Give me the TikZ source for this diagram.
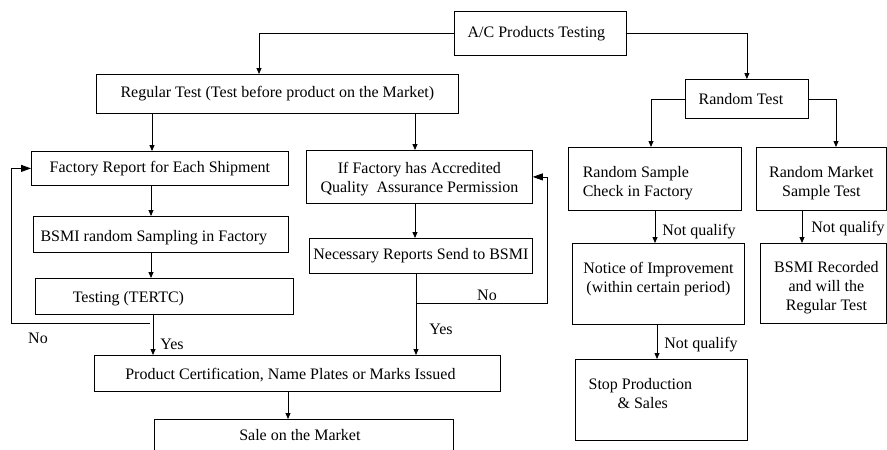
\documentclass[tikz,border=0pt]{standalone}
\usepackage{fontspec}
\setmainfont{Liberation Serif}
\usetikzlibrary{arrows.meta}
\newcommand\nudge[3]{\raisebox{#2}[\height][\depth]{\hspace*{#1}#3\hspace*{-#1}}}
\begin{document}
\begin{tikzpicture}[x=1pt,y=-1pt,
  txt/.style={font=\fontsize{16}{19}\selectfont},
  box/.style={txt,draw,line width=0.8pt,inner sep=0pt,anchor=north west},
  lbl/.style={txt,inner sep=0pt},
  conn/.style={line width=0.8pt},
  arr/.style={conn,-{Triangle[length=6pt,width=5pt]}},
  bigarr/.style={conn,-{Triangle[length=10pt,width=7pt]}}]
\useasboundingbox (0,0) rectangle (887,450);
\clip (0,0) rectangle (887,450);
% guide coordinates
\coordinate (g259) at (259,0);
\coordinate (g152) at (152,0);
\coordinate (g415) at (415,0);
\coordinate (g151) at (151,0);
\coordinate (g153) at (153,0);
\coordinate (g416) at (416,0);
\coordinate (g288) at (288,0);
\coordinate (g11) at (11,0);
\coordinate (g547) at (547,0);
\coordinate (g651) at (651,0);
\coordinate (g836) at (836,0);
\coordinate (g655) at (655,0);
\coordinate (g802) at (802,0);
\coordinate (g657) at (657,0);
% boxes
\node[box,minimum width=172,minimum height=44] (ac) at (454,11) {\nudge{-4pt}{0pt}{A/C Products Testing}};
\node[box,minimum width=362,minimum height=39] (reg) at (96,74) {Regular Test (Test before product on the Market)};
\node[box,minimum width=123,minimum height=39] (rnd) at (685,79) {\nudge{-6pt}{0pt}{Random Test}};
\node[box,minimum width=257,minimum height=34] (fac) at (31,151) {Factory Report for Each Shipment};
\node[box,minimum width=255,minimum height=36] (bsmi) at (33,216) {\nudge{-7pt}{-3pt}{BSMI random Sampling in Factory}};
\node[box,minimum width=258,minimum height=36] (tst) at (35,278) {\nudge{-36pt}{-2pt}{Testing (TERTC)}};
\node[box,minimum width=226,minimum height=53] (iff) at (306,150) {\nudge{0pt}{-2pt}{\begin{tabular}{@{}c@{}}If Factory has Accredited\\Quality\ \ Assurance Permission\end{tabular}}};
\node[box,minimum width=223,minimum height=35] (nec) at (309,238) {Necessary Reports Send to BSMI};
\node[box,minimum width=406,minimum height=36] (prod) at (94,355) {\nudge{-7pt}{-2pt}{Product Certification, Name Plates or Marks Issued}};
\node[box,minimum width=299,minimum height=32] (sale) at (154,419) {\nudge{-4pt}{0pt}{Sale on the Market}};
\node[box,minimum width=173,minimum height=63] (rsc) at (568,147) {\nudge{-17pt}{-4pt}{\begin{tabular}{@{}l@{}}Random Sample\\Check in Factory\end{tabular}}};
\node[box,minimum width=130,minimum height=63] (rmk) at (756,147) {\nudge{0pt}{-4pt}{\begin{tabular}{@{}c@{}}Random Market\\Sample Test\end{tabular}}};
\node[box,minimum width=172,minimum height=81] (nti) at (572,243) {\nudge{0pt}{5pt}{\begin{tabular}{@{}c@{}}Notice of Improvement\\(within certain period)\end{tabular}}};
\node[box,minimum width=126,minimum height=80] (bsr) at (760,243) {\nudge{3pt}{-4pt}{\begin{tabular}{@{}c@{}}BSMI Recorded\\and will the\\Regular Test\end{tabular}}};
\node[box,minimum width=172,minimum height=81] (stop) at (575,359) {\nudge{-21pt}{5pt}{\begin{tabular}{@{}l@{}}Stop Production\\\hspace*{29pt}\& Sales\end{tabular}}};
% labels
\node[lbl] (yes1) at (172,344) {Yes};
\node[lbl] (yes2) at (441,329) {Yes};
\node[lbl] (no1) at (38,338) {No};
\node[lbl] (no2) at (487,295) {No};
\node[lbl] (nq1) at (699,232) {Not qualify};
\node[lbl] (nq2) at (848,229) {Not qualify};
\node[lbl] (nq3) at (701,345) {Not qualify};
% connectors
\draw[arr] (ac.west) -| (reg.north -| g259);
\draw[arr] (ac.east) -| (rnd.north);
\draw[arr] (reg.south -| g152) -- (fac.north -| g152);
\draw[arr] (reg.south -| g415) -- (iff.north -| g415);
\draw[arr] (fac.south -| g151) -- (bsmi.north -| g151);
\draw[arr] (bsmi.south -| g151) -- (tst.north -| g151);
\draw[arr] (tst.south -| g153) -- (prod.north -| g153);
\coordinate (lp) at (150,323);
\draw[bigarr] (lp) -| (fac.west -| g11) -- (fac.west);
\draw[arr] (iff.south -| g415) -- (nec.north -| g415);
\draw[arr] (nec.south -| g416) -- (prod.north -| g416);
\coordinate (lq) at (416,303);
\draw[bigarr] (lq) -| (iff.east -| g547) -- (iff.east);
\draw[arr] (prod.south -| g288) -- (sale.north -| g288);
\draw[arr] (rnd.west) -| (rsc.north -| g651);
\draw[arr] (rnd.east) -| (rmk.north -| g836);
\draw[arr] (rsc.south -| g655) -- (nti.north -| g655);
\draw[arr] (rmk.south -| g802) -- (bsr.north -| g802);
\draw[arr] (nti.south -| g657) -- (stop.north -| g657);
\end{tikzpicture}
\end{document}
